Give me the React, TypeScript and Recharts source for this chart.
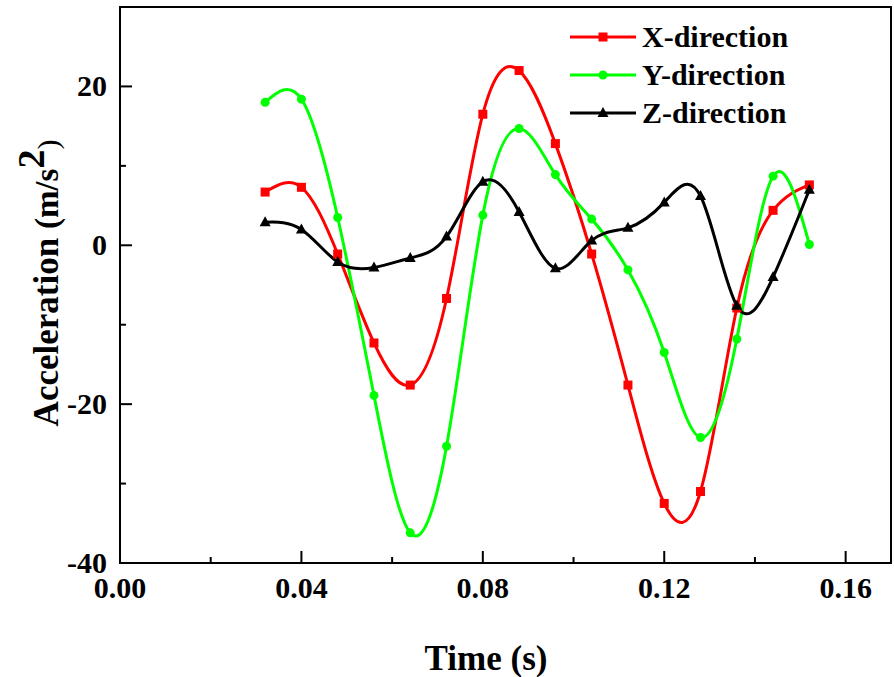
import React from 'react';
import { LineChart, Line, XAxis, YAxis, ReferenceArea } from 'recharts';

const time = [0.032, 0.04, 0.048, 0.056, 0.064, 0.072, 0.08, 0.088, 0.096, 0.104, 0.112, 0.12, 0.128, 0.136, 0.144, 0.152];
const xDirection = [6.7, 7.3, -1.1, -12.3, -17.6, -6.7, 16.5, 22.0, 12.8, -1.1, -17.6, -32.5, -31.0, -7.9, 4.4, 7.6];
const yDirection = [18.0, 18.4, 3.5, -18.9, -36.2, -25.3, 3.8, 14.7, 8.9, 3.3, -3.1, -13.5, -24.2, -11.8, 8.7, 0.1];
const zDirection = [2.9, 2.0, -2.1, -2.8, -1.6, 1.1, 8.0, 4.2, -2.9, 0.6, 2.2, 5.4, 6.2, -7.6, -4.0, 7.0];

const xTicks = [0, 0.02, 0.04, 0.06, 0.08, 0.1, 0.12, 0.14, 0.16];
const yTicks = [-40, -30, -20, -10, 0, 10, 20];

const FONT = '"Liberation Serif", "Times New Roman", serif';
const RED = '#ff0000';
const GREEN = '#00ff00';
const BLACK = '#000000';

const data = time.map((t, i) => ({ t, x: xDirection[i], y: yDirection[i], z: zDirection[i] }));

const series = [
  { key: 'x', name: 'X-direction', color: RED, marker: 'square' },
  { key: 'y', name: 'Y-direction', color: GREEN, marker: 'circle' },
  { key: 'z', name: 'Z-direction', color: BLACK, marker: 'triangle' },
];

const Marker = ({ cx, cy, kind, color }: any) => {
  if (cx == null || cy == null) return null;
  if (kind === 'square') return <rect x={cx - 4.5} y={cy - 4.5} width={9} height={9} fill={color} />;
  if (kind === 'circle') return <circle cx={cx} cy={cy} r={4.5} fill={color} />;
  return <polygon points={`${cx},${cy - 6} ${cx + 5.5},${cy + 4} ${cx - 5.5},${cy + 4}`} fill={color} />;
};

const XTick = ({ x, y, payload }: any) => {
  const major = Math.round(payload.value * 100) % 4 === 0;
  return (
    <g>
      <line x1={x} y1={y} x2={x} y2={y - (major ? 12 : 6)} stroke="#000" strokeWidth={2} />
      {major && (
        <text x={x} y={y + 35} textAnchor="middle" fontFamily={FONT} fontWeight="bold" fontSize={30} fill="#000">
          {payload.value.toFixed(2)}
        </text>
      )}
    </g>
  );
};

const YTick = ({ x, y, payload }: any) => {
  const major = payload.value % 20 === 0;
  return (
    <g>
      <line x1={x} y1={y} x2={x + (major ? 12 : 6)} y2={y} stroke="#000" strokeWidth={2} />
      {major && (
        <text x={x - 13} y={y + 10} textAnchor="end" fontFamily={FONT} fontWeight="bold" fontSize={30} fill="#000">
          {payload.value}
        </text>
      )}
    </g>
  );
};

// legend sits inside the plot frame, top right
const LegendBox = () => (
  <div style={{ position: 'absolute', top: 18, left: 568 }}>
    {series.map((s) => (
      <svg key={s.key} width={260} height={38} style={{ display: 'block' }}>
        <line x1={2} y1={19} x2={68} y2={19} stroke={s.color} strokeWidth={3} />
        <Marker cx={35} cy={19} kind={s.marker} color={s.color} />
        <text x={74} y={29} fontFamily={FONT} fontWeight="bold" fontSize={30} fill="#000">
          {s.name}
        </text>
      </svg>
    ))}
  </div>
);

export default function App() {
  return (
    <div style={{ position: 'absolute', left: 0, top: 0, width: 894, height: 677, background: '#fff' }}>
      <LineChart width={894} height={677} data={data} margin={{ top: 7, right: 3, left: 0, bottom: 0 }}>
        <XAxis
          dataKey="t"
          type="number"
          domain={[0, 0.17]}
          ticks={xTicks}
          tick={<XTick />}
          tickSize={0}
          tickMargin={0}
          tickLine={false}
          height={114}
          axisLine={{ stroke: '#000', strokeWidth: 2 }}
          label={{
            content: () => (
              <text x={486} y={670} textAnchor="middle" fontFamily={FONT} fontWeight="bold" fontSize={35} fill="#000">
                Time (s)
              </text>
            ),
          }}
        />
        <YAxis
          type="number"
          domain={[-40, 30]}
          ticks={yTicks}
          tick={<YTick />}
          tickSize={0}
          tickMargin={0}
          tickLine={false}
          width={120}
          allowDataOverflow
          axisLine={{ stroke: '#000', strokeWidth: 2 }}
          label={{
            content: () => (
              <text
                x={58}
                y={283}
                transform="rotate(-90 58 283)"
                textAnchor="middle"
                fontFamily={FONT}
                fontWeight="bold"
                fontSize={35}
                fill="#000"
              >
                Acceleration <tspan fontSize={33}>(m/s</tspan>
                <tspan fontSize={38} dy={-14}>2</tspan>
                <tspan fontSize={30} fontWeight="normal" dy={14}>)</tspan>
              </text>
            ),
          }}
        />
        <ReferenceArea x1={0} x2={0.17} y1={-40} y2={30} fill="none" stroke="#000" strokeWidth={2} />
        {series.map((s) => (
          <Line
            key={s.key}
            type="natural"
            dataKey={s.key}
            name={s.name}
            stroke={s.color}
            strokeWidth={3}
            isAnimationActive={false}
            dot={(p: any) => <Marker key={`${s.key}-${p.index}`} cx={p.cx} cy={p.cy} kind={s.marker} color={s.color} />}
            activeDot={false}
          />
        ))}
      </LineChart>
      <LegendBox />
    </div>
  );
}
